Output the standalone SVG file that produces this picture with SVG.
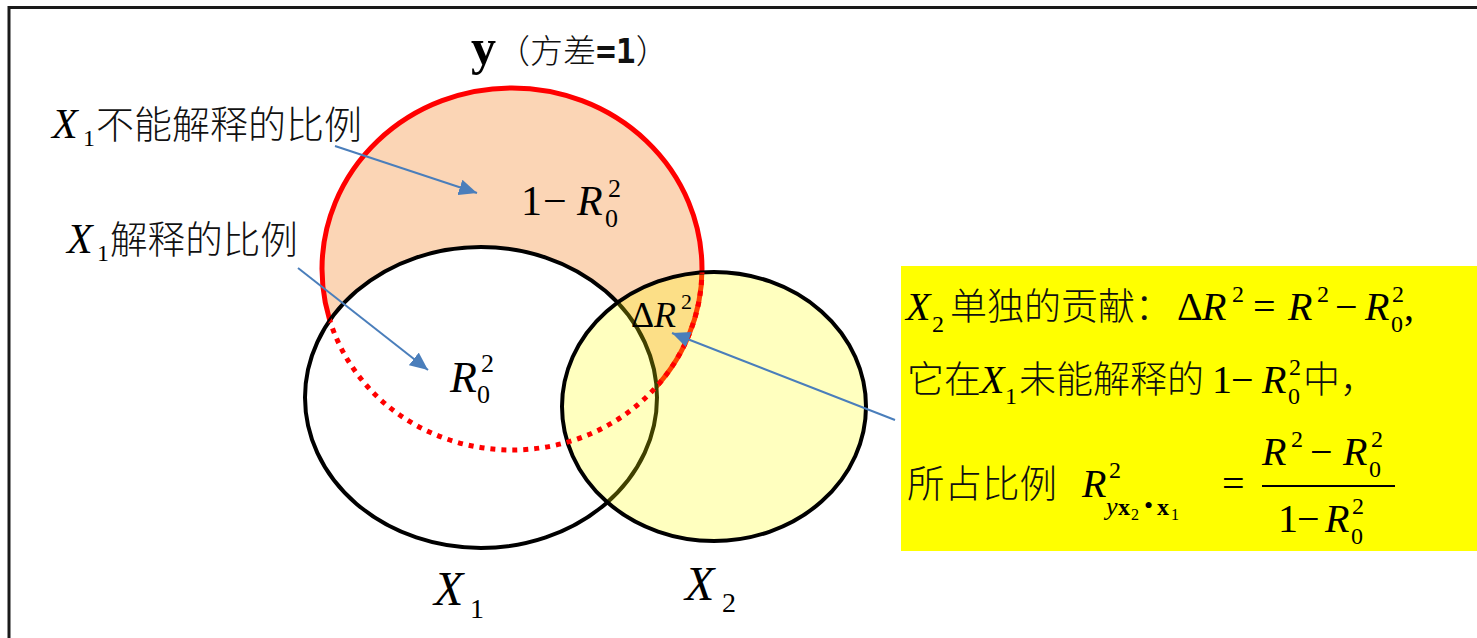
<svg xmlns="http://www.w3.org/2000/svg" width="1477" height="638" viewBox="0 0 1477 638">
<style>
.m{font-family:"Liberation Serif","Times New Roman",serif;fill:#000}
.i{font-style:italic}
.cjk{font-family:"Noto Sans CJK SC","Noto Sans",sans-serif;fill:#111;font-weight:300}
.conn{stroke:#4A7EBB;stroke-width:2;fill:none;marker-end:url(#ah)}
</style>
<defs>
<marker id="ah" markerUnits="userSpaceOnUse" markerWidth="20" markerHeight="16" refX="18" refY="8" orient="auto">
<path d="M0,0 L18,8 L0,16 Z" fill="#4A7EBB"/>
</marker>
<clipPath id="inX">
<ellipse cx="481" cy="397.5" rx="176" ry="150.5"/>
<ellipse cx="714" cy="406.5" rx="152" ry="134.5"/>
</clipPath>
</defs>
<rect width="1477" height="638" fill="#fff"/>
<g id="frame">
<path d="M9,638 V7.5 H1477" fill="none" stroke="#1a1a1a" stroke-width="3"/>
</g>
<g id="title">
<text class="m" x="471" y="64" font-size="50" font-weight="bold">y</text>
<text class="cjk" x="497" y="63" font-size="33">（方差<tspan font-family="DejaVu Sans Mono,monospace" font-weight="bold">=1</tspan>）</text>
</g>
<g id="y-circle">
<ellipse cx="512" cy="269" rx="190" ry="181" fill="#FBD5B5" stroke="#FF0000" stroke-width="5"/>
</g>
<g id="X1-circle">
<ellipse cx="481" cy="397.5" rx="176" ry="150.5" fill="#fff" stroke="#000" stroke-width="4"/>
</g>
<g id="X2-circle">
<ellipse cx="714" cy="406.5" rx="152" ry="134.5" fill="#FFFF00" fill-opacity="0.25" stroke="#000" stroke-width="4"/>
</g>
<g id="y-dotted">
<ellipse cx="512" cy="269" rx="190" ry="181" fill="none" stroke="#FF0000" stroke-width="5" stroke-dasharray="5 6" clip-path="url(#inX)"/>
</g>
<g id="label-1-R0">
<text class="m" x="521" y="215" font-size="42">1</text>
<text class="m" x="543" y="215" font-size="42">−</text>
<text class="m i" x="577" y="215" font-size="42">R</text>
<text class="m" x="605" y="227" font-size="26">0</text>
<text class="m" x="608" y="197" font-size="26">2</text>
</g>
<g id="label-R0">
<text class="m i" x="450" y="392" font-size="44">R</text>
<text class="m" x="477" y="403" font-size="26">0</text>
<text class="m" x="481" y="372" font-size="26">2</text>
</g>
<g id="label-dR">
<text class="m" x="631" y="327" font-size="36">Δ</text>
<text class="m i" x="654" y="327" font-size="36">R</text>
<text class="m" x="681" y="309" font-size="22">2</text>
</g>
<g id="label-X1-not">
<text class="m i" x="52" y="138" font-size="42">X</text>
<text class="m" x="83" y="146" font-size="24">1</text>
<text class="cjk" x="96" y="138" font-size="38">不能解释的比例</text>
</g>
<g id="label-X1-expl">
<text class="m i" x="67" y="253" font-size="42">X</text>
<text class="m" x="97" y="261" font-size="24">1</text>
<text class="cjk" x="110" y="253" font-size="37.6">解释的比例</text>
</g>
<g id="label-X1">
<text class="m i" x="434" y="605" font-size="48">X</text>
<text class="m" x="470" y="618" font-size="28">1</text>
</g>
<g id="label-X2">
<text class="m i" x="685" y="600" font-size="48">X</text>
<text class="m" x="722" y="612" font-size="28">2</text>
</g>
<g id="note">
<rect x="901" y="266" width="580" height="285" fill="#FFFF00"/>
<text class="m i" x="906" y="320" font-size="40">X</text>
<text class="m" x="932" y="332" font-size="24">2</text>
<text class="cjk" x="950" y="320" font-size="37">单独的贡献：</text>
<text class="m" x="1177" y="320" font-size="40">Δ</text>
<text class="m i" x="1202" y="320" font-size="40">R</text>
<text class="m" x="1232" y="302" font-size="24">2</text>
<text class="m" x="1253" y="320" font-size="40">=</text>
<text class="m i" x="1288" y="320" font-size="40">R</text>
<text class="m" x="1317" y="302" font-size="24">2</text>
<text class="m" x="1335" y="320" font-size="40">−</text>
<text class="m i" x="1365" y="320" font-size="40">R</text>
<text class="m" x="1391" y="332" font-size="24">0</text>
<text class="m" x="1392" y="302" font-size="24">2</text>
<text class="m" x="1404" y="320" font-size="40">,</text>
<text class="cjk" x="907" y="393" font-size="37">它在</text>
<text class="m i" x="980" y="393" font-size="40">X</text>
<text class="m" x="1005" y="404" font-size="24">1</text>
<text class="cjk" x="1019" y="393" font-size="37">未能解释的</text>
<text class="m" x="1212" y="393" font-size="40">1</text>
<text class="m" x="1231" y="393" font-size="40">−</text>
<text class="m i" x="1262" y="393" font-size="40">R</text>
<text class="m" x="1288" y="404" font-size="24">0</text>
<text class="m" x="1289" y="375" font-size="24">2</text>
<text class="cjk" x="1303" y="393" font-size="37">中，</text>
<text class="cjk" x="907" y="497" font-size="37.5">所占比例</text>
<text class="m i" x="1082" y="497" font-size="40">R</text>
<text class="m" x="1109" y="478" font-size="24">2</text>
<text class="m i" x="1106" y="515" font-size="26">y</text>
<text class="m" x="1118" y="515" font-size="24" font-weight="bold">x</text>
<text class="m" x="1131" y="520" font-size="16">2</text>
<text class="m" x="1144" y="514" font-size="26">•</text>
<text class="m" x="1157" y="515" font-size="24" font-weight="bold">x</text>
<text class="m" x="1171" y="520" font-size="16">1</text>
<text class="m" x="1222" y="497" font-size="40">=</text>
<line x1="1262" y1="486" x2="1395" y2="486" stroke="#000" stroke-width="2"/>
<text class="m i" x="1262" y="465" font-size="40">R</text>
<text class="m" x="1291" y="447" font-size="24">2</text>
<text class="m" x="1310" y="465" font-size="40">−</text>
<text class="m i" x="1343" y="465" font-size="40">R</text>
<text class="m" x="1369" y="477" font-size="24">0</text>
<text class="m" x="1371" y="447" font-size="24">2</text>
<text class="m" x="1278" y="532" font-size="40">1</text>
<text class="m" x="1297" y="532" font-size="40">−</text>
<text class="m i" x="1325" y="532" font-size="40">R</text>
<text class="m" x="1351" y="544" font-size="24">0</text>
<text class="m" x="1352" y="514" font-size="24">2</text>
</g>
<g id="connectors">
<line class="conn" x1="335" y1="146" x2="477" y2="193"/>
<line class="conn" x1="298" y1="268" x2="428" y2="370"/>
<line class="conn" x1="895" y1="420" x2="672" y2="333"/>
</g>
</svg>
